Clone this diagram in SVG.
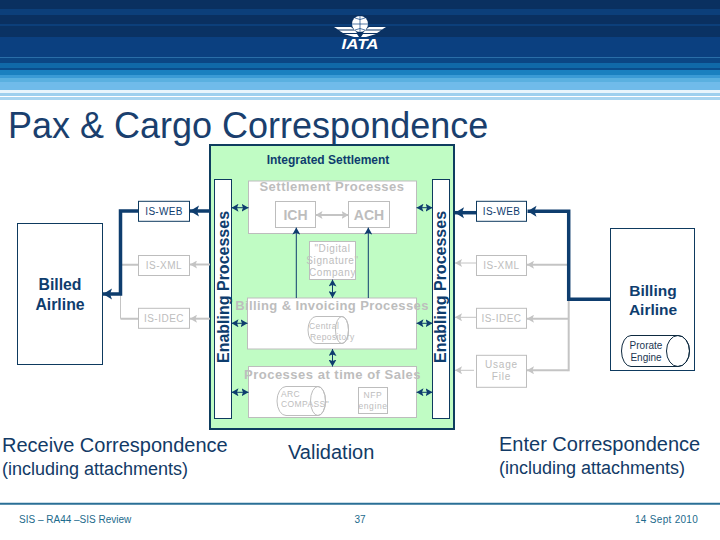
<svg xmlns="http://www.w3.org/2000/svg" width="720" height="540" viewBox="0 0 720 540">
<style>
text{font-family:"Liberation Sans",Arial,sans-serif}
.box{fill:#fff;stroke:#bdbdbd;stroke-width:1}
.dbox{fill:#fff;stroke:#0e3a5f;stroke-width:1}
.g{fill:#bdbdbd;text-anchor:middle}
.gb{fill:#bdbdbd;font-weight:bold;text-anchor:middle}
.s{font-size:10px;letter-spacing:.6px}
.d{fill:#0e3d6e;text-anchor:middle}
.db{fill:#0e3d6e;font-weight:bold;text-anchor:middle}
.big{fill:#123a66}
.foot{fill:#1c6a8c;font-size:10px}
.thick{fill:none;stroke:#0e3d6e;stroke-width:3.500}
.thin{fill:none;stroke:#0e3d6e;stroke-width:1}
.gl{fill:none;stroke:#c4c4c4;stroke-width:2}
.gt{fill:none;stroke:#c4c4c4;stroke-width:1}
</style>
<defs>
<marker id="ab" markerUnits="userSpaceOnUse" markerWidth="11" markerHeight="12" viewBox="0 0 11 12" refX="11" refY="6" orient="auto-start-reverse"><path d="M11,6 L2,0.5 L4,6 L2,11.5 Z" fill="#0e3d6e"/></marker>
<marker id="as" markerUnits="userSpaceOnUse" markerWidth="7" markerHeight="8" viewBox="0 0 7 8" refX="7" refY="4" orient="auto-start-reverse"><path d="M7,4 L0,0 L1.500,4 L0,8 Z" fill="#0e3d6e"/></marker>
<marker id="ag" markerUnits="userSpaceOnUse" markerWidth="7" markerHeight="8" viewBox="0 0 7 8" refX="7" refY="4" orient="auto-start-reverse"><path d="M7,4 L0,0 L1.500,4 L0,8 Z" fill="#c4c4c4"/></marker>
</defs>
<rect width="720" height="540" fill="#fff"/>
<g id="banner">
<rect x="0" y="0" width="720" height="9" fill="#0a3060"/>
<rect x="0" y="9" width="720" height="6" fill="#0c3f7a"/>
<rect x="0" y="15" width="720" height="9" fill="#0a3060"/>
<rect x="0" y="24" width="720" height="2" fill="#0c3f7a"/>
<rect x="0" y="26" width="720" height="11" fill="#0a3263"/>
<rect x="0" y="37" width="720" height="20" fill="#0b4080"/>
<rect x="0" y="57" width="720" height="1" fill="#2a6ea8"/>
<rect x="0" y="58" width="720" height="5" fill="#0b4684"/>
<rect x="0" y="63" width="720" height="5" fill="#1069a8"/>
<rect x="0" y="68" width="720" height="2" fill="#0a4d8c"/>
<rect x="0" y="70" width="720" height="5" fill="#1a80c0"/>
<rect x="0" y="75" width="720" height="3" fill="#3a9ad5"/>
<rect x="0" y="78" width="720" height="4" fill="#5ab0e0"/>
<rect x="0" y="82" width="720" height="8" fill="#70bbea"/>
<rect x="0" y="90" width="720" height="3" fill="#e8f5fc"/>
<rect x="0" y="93" width="720" height="3" fill="#9ed0ee"/>
<rect x="0" y="97" width="720" height="3" fill="#a8d5f0"/>
</g>
<g id="logo" fill="#fff">
<circle cx="360" cy="24" r="8"/>
<path d="M360,16V32M352,24H368M355,18Q360,21 365,18M355,30Q360,27 365,30" fill="none" stroke="#0b4080" stroke-width=".7"/>
<path d="M334,27H351L354,29.500H338ZM339,30.500H355L357,33H343ZM344,34H357L359,37H354Z"/>
<path d="M386,27H369L366,29.500H382ZM381,30.500H365L363,33H377ZM376,34H363L361,37H366Z"/>
<text x="360" y="49" font-size="14" font-weight="bold" font-style="italic" text-anchor="middle" textLength="37" lengthAdjust="spacingAndGlyphs">IATA</text>
</g>
<text id="title" x="8" y="138" font-size="36" fill="#1a3f6e">Pax &amp; Cargo Correspondence</text>
<g id="integrated-settlement">
<rect x="210" y="145" width="244" height="284" fill="#c0fcc4" stroke="#0e3d5f" stroke-width="2"/>
<text class="db" x="328" y="164" font-size="12">Integrated Settlement</text>
</g>
<g id="enabling-left"><rect class="dbox" x="214.500" y="179.500" width="17" height="239"/>
<text class="db" transform="translate(228.500 287) rotate(-90)" font-size="16">Enabling Processes</text></g>
<g id="enabling-right"><rect class="dbox" x="432.500" y="179.500" width="17" height="239"/>
<text class="db" transform="translate(445.700 287) rotate(-90)" font-size="16">Enabling Processes</text></g>
<g id="settlement-processes"><rect class="box" x="248.500" y="181" width="168" height="52.500"/>
<text class="gb" x="332" y="191" font-size="13" letter-spacing=".5">Settlement Processes</text></g>
<g id="ich"><rect class="box" x="275.500" y="201.500" width="40" height="26"/><text class="gb" x="295.500" y="220" font-size="14">ICH</text></g>
<g id="ach"><rect class="box" x="348.500" y="201.500" width="41" height="26"/><text class="gb" x="369" y="220" font-size="14">ACH</text></g>
<g id="digital-signature"><rect class="box" x="309.500" y="241.500" width="46" height="38"/>
<text class="g s" x="332.500" y="252">"Digital</text><text class="g s" x="332.500" y="264">Signature"</text><text class="g s" x="332.500" y="276">Company</text></g>
<g id="billing-invoicing"><rect class="box" x="247.500" y="298" width="169" height="51"/>
<text class="gb" x="332" y="310" font-size="13" letter-spacing=".4">Billing &amp; Invoicing Processes</text></g>
<g id="central-repository"><path d="M316,316.500H342A6.500,13.500 0 0 1 342,343.500H316A8,13.500 0 0 1 316,316.500Z" fill="#fff" stroke="#bdbdbd"/><ellipse cx="342" cy="330" rx="6.500" ry="13.500" fill="none" stroke="#bdbdbd"/>
<text class="g" x="309" y="329" font-size="8.500" letter-spacing=".4" style="text-anchor:start">Central</text><text class="g" x="310" y="340" font-size="8.500" letter-spacing=".4" style="text-anchor:start">Repository</text></g>
<g id="time-of-sales"><rect class="box" x="248.500" y="366.500" width="168" height="51"/>
<text class="gb" x="332.500" y="379" font-size="13" letter-spacing=".5">Processes at time of Sales</text></g>
<g id="arc-compass"><path d="M286,386.500H318A7.500,14.500 0 0 1 318,415.500H286A9,14.500 0 0 1 286,386.500Z" fill="#fff" stroke="#bdbdbd"/><ellipse cx="318" cy="401" rx="7.500" ry="14.500" fill="none" stroke="#bdbdbd"/>
<text class="g" x="281" y="397" font-size="8.500" letter-spacing=".4" style="text-anchor:start">ARC</text><text class="g" x="281" y="407" font-size="8.500" letter-spacing=".4" style="text-anchor:start">COMPASS"</text></g>
<g id="nfp-engine"><rect class="box" x="358.500" y="387.500" width="29" height="26"/>
<text class="g" x="373" y="398" font-size="8.500" letter-spacing=".6">NFP</text><text class="g" x="373" y="409" font-size="8.500" letter-spacing=".6">engine</text></g>
<g id="connectors">
<path class="gl" d="M138,264.700H120M138,318.700H120.500"/><path class="gt" d="M120.500,294V318.700"/>
<path class="thick" d="M138,211H120.500V294H103" marker-end="url(#ab)"/>
<path class="thick" d="M210,211H190" marker-end="url(#ab)"/>
<path class="gl" d="M210,264.500H190" marker-end="url(#ag)"/>
<path class="gl" d="M210,318.700H190" marker-end="url(#ag)"/>
<path class="gl" d="M568.700,299V371.300"/>
<path class="gl" d="M568,264.700H527" marker-end="url(#ag)"/><path class="gl" d="M568,318.700H527" marker-end="url(#ag)"/><path class="gl" d="M568,370.300H527" marker-end="url(#ag)"/>
<path class="thick" d="M610,299.300H568.700V211.300H527.500" marker-end="url(#ab)"/>
<path class="thick" d="M476,212.700H455" marker-end="url(#ab)"/>
<path class="gt" d="M476,263H455" marker-end="url(#ag)"/><path class="gt" d="M476,317.300H455" marker-end="url(#ag)"/><path class="gt" d="M474,370.300H455" marker-end="url(#ag)"/>
<path class="gl" d="M315.500,215H348.500" marker-start="url(#ag)" marker-end="url(#ag)"/>
<path class="thin" d="M296.300,298V227.500" marker-end="url(#as)"/><path class="thin" d="M368.300,298V227.500" marker-end="url(#as)"/>
<path class="thin" stroke-width="2" d="M332.500,298V279.500" marker-start="url(#as)" marker-end="url(#as)"/>
<path class="thin" stroke-width="2" d="M332.500,349V366.500" marker-start="url(#as)" marker-end="url(#as)"/>
<path class="thin" d="M231.500,207.700H248.500" marker-start="url(#as)" marker-end="url(#as)"/><path class="thin" d="M416.500,207.700H432.500" marker-start="url(#as)" marker-end="url(#as)"/>
<path class="thin" d="M231.500,323.300H247.500" marker-start="url(#as)" marker-end="url(#as)"/><path class="thin" d="M416.500,323.300H432.500" marker-start="url(#as)" marker-end="url(#as)"/>
<path class="thin" d="M231.500,392.300H248.500" marker-start="url(#as)" marker-end="url(#as)"/><path class="thin" d="M416.500,392.300H432.500" marker-start="url(#as)" marker-end="url(#as)"/>
</g>
<g id="is-web-left"><rect class="dbox" x="138.500" y="201.300" width="51" height="20"/><text class="d" x="164" y="215" font-size="10" letter-spacing=".3">IS-WEB</text></g>
<g id="is-xml-left"><rect class="box" x="138.500" y="255.500" width="51" height="20"/><text class="g" x="164" y="268.500" font-size="10" letter-spacing=".5">IS-XML</text></g>
<g id="is-idec-left"><rect class="box" x="138.500" y="308.300" width="51" height="20"/><text class="g" x="164" y="322" font-size="10" letter-spacing=".5">IS-IDEC</text></g>
<g id="is-web-right"><rect class="dbox" x="476.500" y="201.300" width="50" height="20"/><text class="d" x="501.500" y="215" font-size="10" letter-spacing=".3">IS-WEB</text></g>
<g id="is-xml-right"><rect class="box" x="476.500" y="255.500" width="50" height="20"/><text class="g" x="501.500" y="268.500" font-size="10" letter-spacing=".5">IS-XML</text></g>
<g id="is-idec-right"><rect class="box" x="476.500" y="308.300" width="50" height="20"/><text class="g" x="501.500" y="322" font-size="10" letter-spacing=".5">IS-IDEC</text></g>
<g id="usage-file"><rect class="box" x="476.500" y="355.300" width="50" height="32"/><text class="g" x="501.500" y="368" font-size="10" letter-spacing=".8">Usage</text><text class="g" x="501.500" y="380" font-size="10" letter-spacing=".8">File</text></g>
<g id="billed-airline"><rect class="dbox" x="17.500" y="223.500" width="85" height="141"/>
<text class="db" x="60" y="290" font-size="15.800">Billed</text><text class="db" x="60" y="310" font-size="15.800">Airline</text></g>
<g id="billing-airline"><rect class="dbox" x="610.500" y="228.500" width="84" height="142"/>
<text class="db" x="653" y="296" font-size="15.500">Billing</text><text class="db" x="653" y="315" font-size="15.500">Airline</text></g>
<g id="prorate-engine"><path d="M631,335.500H678A11.500,15.500 0 0 1 678,366.500H631A9.500,15.500 0 0 1 631,335.500Z" fill="#fff" stroke="#0e2a40"/><ellipse cx="678" cy="351" rx="11.500" ry="15.500" fill="none" stroke="#0e2a40"/>
<text x="646" y="349" font-size="10" text-anchor="middle" fill="#1a3550">Prorate</text><text x="646" y="361" font-size="10" text-anchor="middle" fill="#1a3550">Engine</text></g>
<text class="big" x="2" y="452" font-size="20">Receive Correspondence</text>
<text class="big" x="2" y="475" font-size="18">(including attachments)</text>
<text class="big" x="288" y="459" font-size="20">Validation</text>
<text class="big" x="499" y="451" font-size="20">Enter Correspondence</text>
<text class="big" x="499" y="474" font-size="18">(including attachments)</text>
<line x1="0" y1="503.700" x2="720" y2="503.700" stroke="#2a6f96" stroke-width="2"/>
<text class="foot" x="19" y="523">SIS – RA44 –SIS Review</text>
<text class="foot" x="360" y="523" text-anchor="middle">37</text>
<text class="foot" x="635" y="523" letter-spacing=".3">14 Sept 2010</text>
</svg>
